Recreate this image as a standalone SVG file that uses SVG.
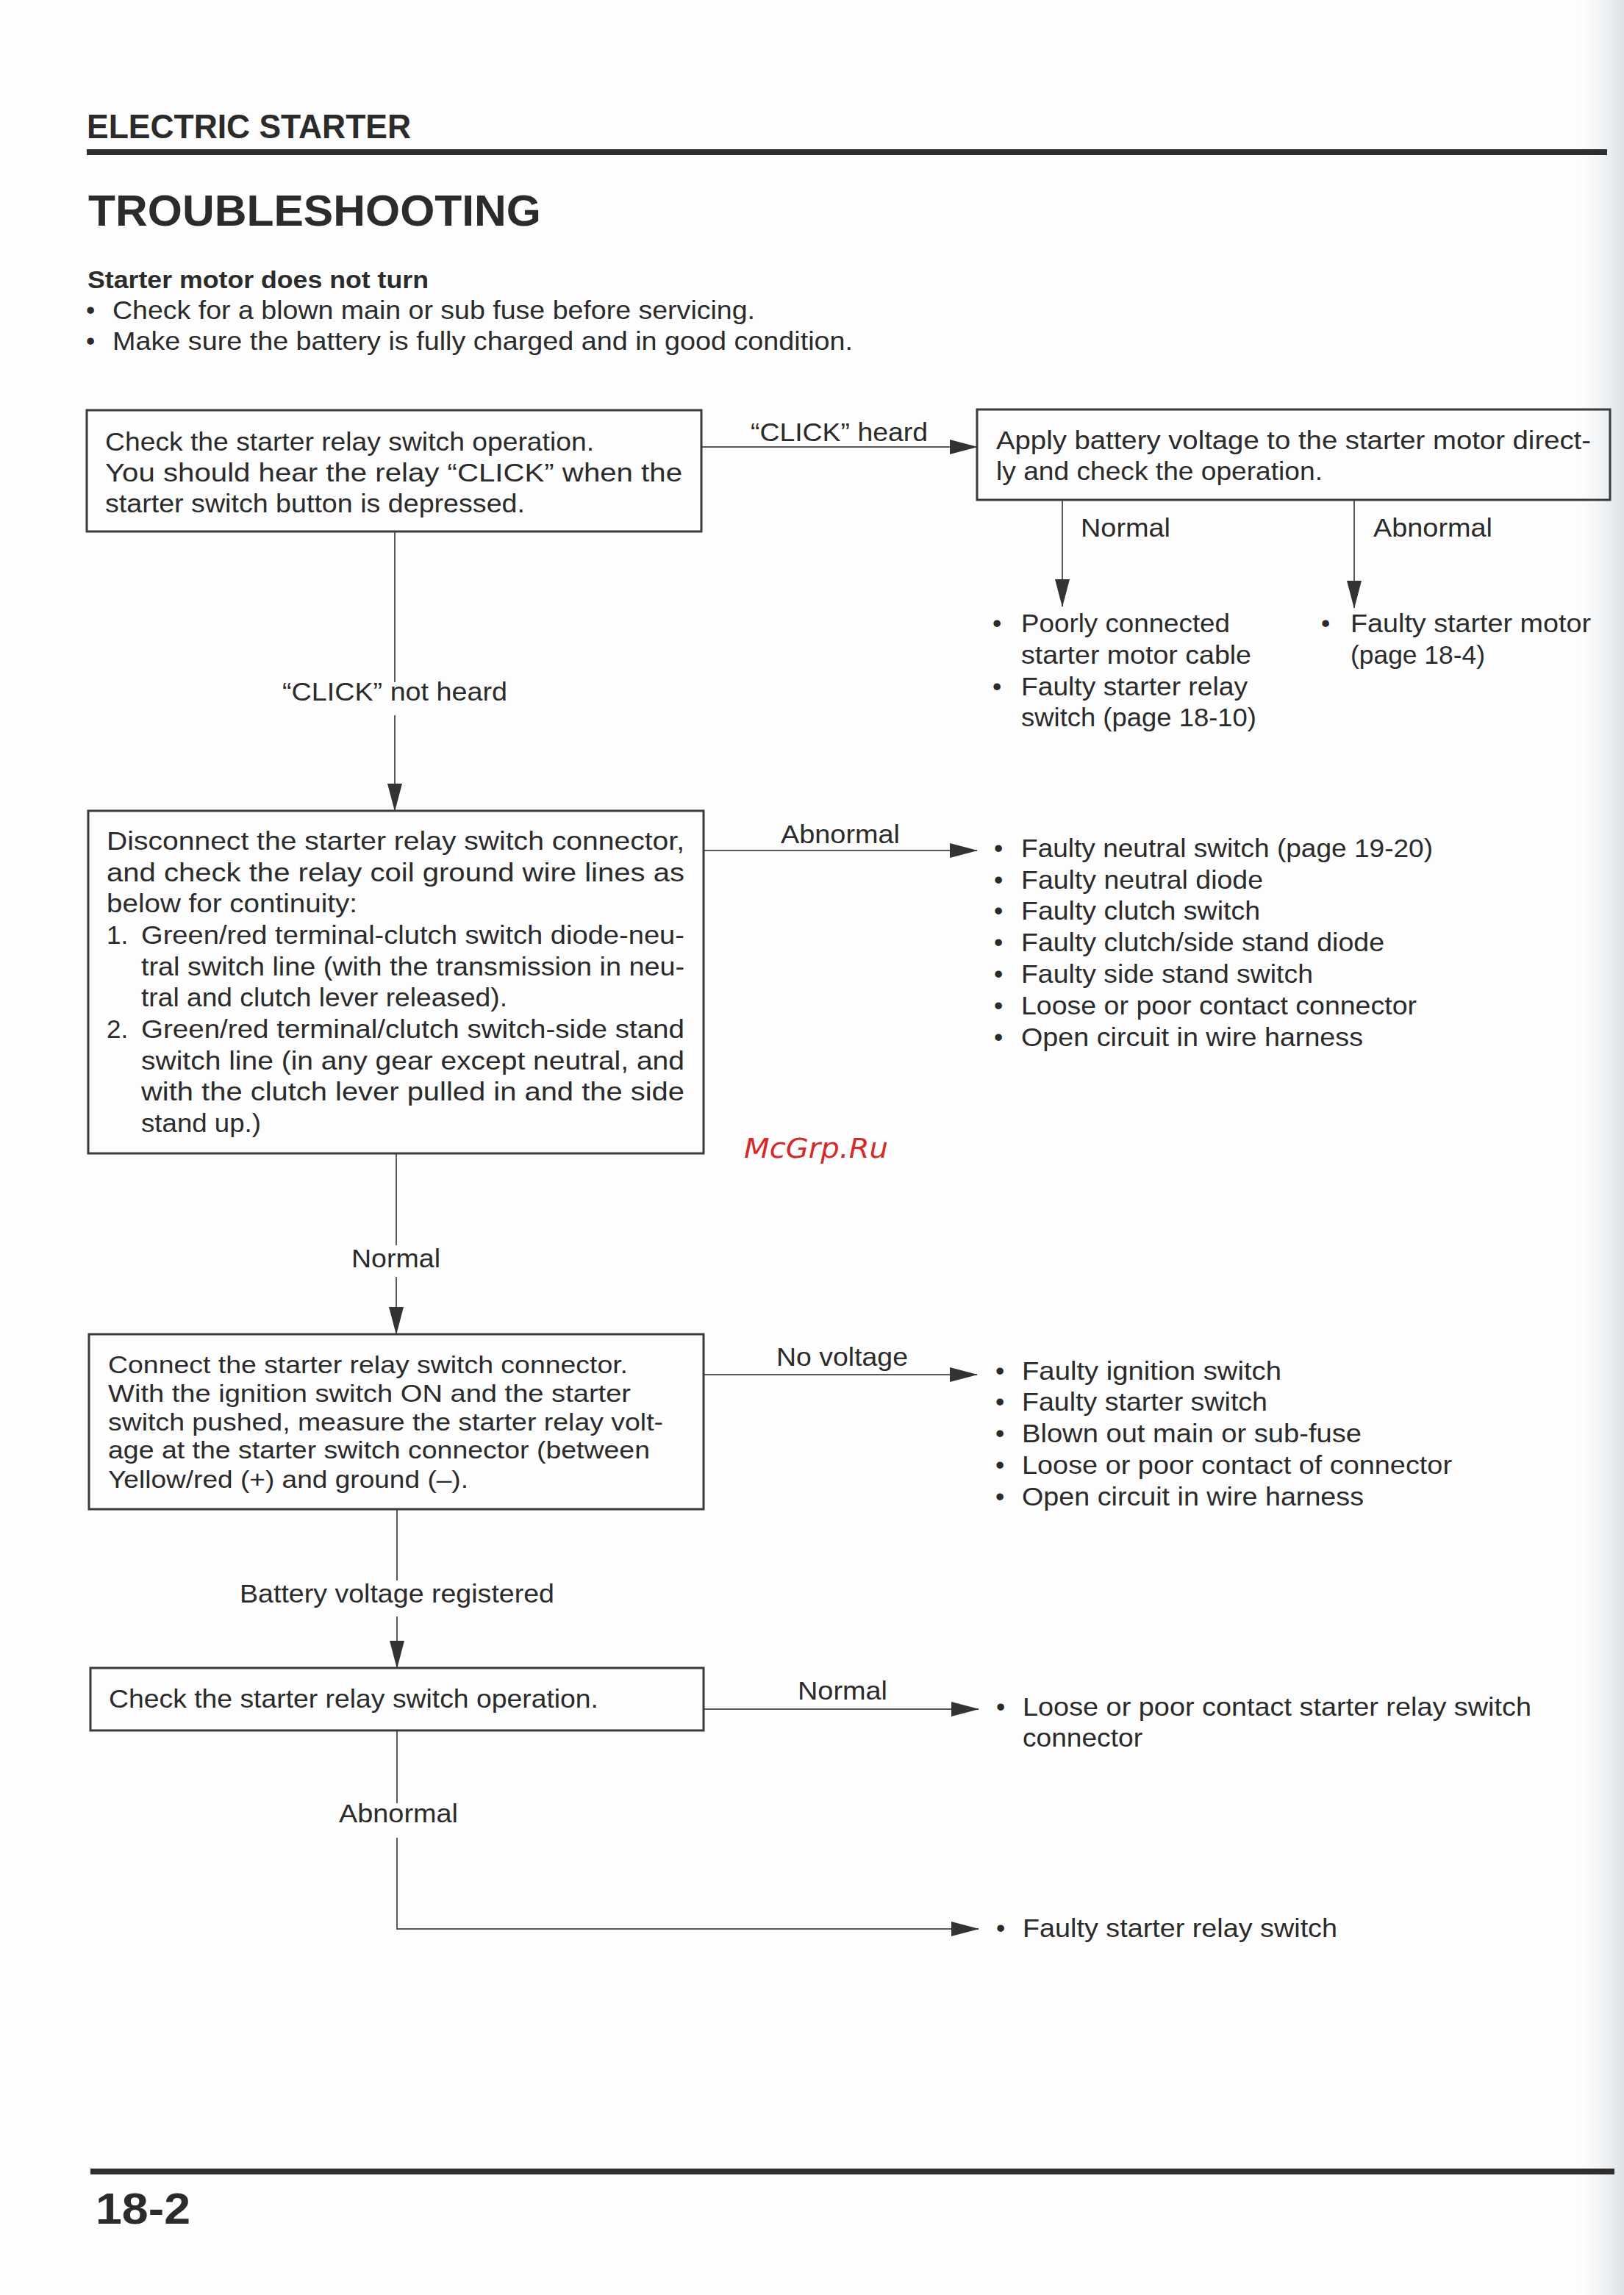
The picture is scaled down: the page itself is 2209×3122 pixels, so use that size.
<svg xmlns="http://www.w3.org/2000/svg" width="2209" height="3122" viewBox="0 0 2209 3122">
<defs>
<style>
text{font-family:"Liberation Sans",Arial,Helvetica,sans-serif;fill:#2b2b2b;}
.b{font-size:35px;}
.s{font-size:34px;}
.lbl{font-size:35px;}
.h{font-weight:bold;}
.box{fill:none;stroke:#3a3a3a;stroke-width:3;}
.con{fill:none;stroke:#5a5a5a;stroke-width:2;}
.wm{font-family:"DejaVu Sans",sans-serif;font-style:italic;font-size:38px;fill:#d42a2a;}
</style>
<marker id="arr" viewBox="0 0 38 20" refX="37" refY="10" markerWidth="38" markerHeight="20" markerUnits="userSpaceOnUse" orient="auto">
<path d="M0,0 L38,10 L0,20 z" fill="#333"/>
</marker>
<linearGradient id="edge" x1="0" y1="0" x2="1" y2="0">
<stop offset="0" stop-color="#e8ecf0" stop-opacity="0"/>
<stop offset="1" stop-color="#dde2e8" stop-opacity="1"/>
</linearGradient>
</defs>
<rect width="2209" height="3122" fill="#fdfdfd"/>
<rect x="2150" y="0" width="59" height="3122" fill="url(#edge)"/>

<g id="header">
<text class="h" x="118" y="188" font-size="46" textLength="441" lengthAdjust="spacingAndGlyphs">ELECTRIC STARTER</text>
<rect x="118" y="203" width="2068" height="8" fill="#2e2e2e"/>
<text class="h" x="120" y="307" font-size="60" textLength="616" lengthAdjust="spacingAndGlyphs">TROUBLESHOOTING</text>
<text class="h" x="119" y="392" font-size="34" textLength="464" lengthAdjust="spacingAndGlyphs">Starter motor does not turn</text>
<text class="b" x="117" y="434">•</text>
<text class="b" x="153" y="434" textLength="874" lengthAdjust="spacingAndGlyphs">Check for a blown main or sub fuse before servicing.</text>
<text class="b" x="117" y="476">•</text>
<text class="b" x="153" y="476" textLength="1007" lengthAdjust="spacingAndGlyphs">Make sure the battery is fully charged and in good condition.</text>
</g>

<g id="connectors">
<path class="con" d="M954,608 H1329" marker-end="url(#arr)"/>
<path class="con" d="M1445,680 V825" marker-end="url(#arr)"/>
<path class="con" d="M1842,680 V827" marker-end="url(#arr)"/>
<path class="con" d="M537,723 V928 M537,973 V1103" marker-end="url(#arr)"/>
<path class="con" d="M957,1157 H1329" marker-end="url(#arr)"/>
<path class="con" d="M539,1569 V1694 M539,1737 V1815" marker-end="url(#arr)"/>
<path class="con" d="M957,1870 H1329" marker-end="url(#arr)"/>
<path class="con" d="M540,2053 V2150 M540,2199 V2269" marker-end="url(#arr)"/>
<path class="con" d="M957,2325 H1331" marker-end="url(#arr)"/>
<path class="con" d="M540,2354 V2453 M540,2500 V2624 H1331" marker-end="url(#arr)"/>
</g>

<g id="labels">
<text class="lbl" x="1021" y="600" textLength="241" lengthAdjust="spacingAndGlyphs">“CLICK” heard</text>
<text class="lbl" x="1470" y="730" textLength="122" lengthAdjust="spacingAndGlyphs">Normal</text>
<text class="lbl" x="1868" y="730" textLength="162" lengthAdjust="spacingAndGlyphs">Abnormal</text>
<text class="lbl" x="384" y="953" textLength="306" lengthAdjust="spacingAndGlyphs">“CLICK” not heard</text>
<text class="lbl" x="1062" y="1147" textLength="162" lengthAdjust="spacingAndGlyphs">Abnormal</text>
<text class="lbl" x="478" y="1724" textLength="121" lengthAdjust="spacingAndGlyphs">Normal</text>
<text class="lbl" x="1056" y="1858" textLength="179" lengthAdjust="spacingAndGlyphs">No voltage</text>
<text class="lbl" x="326" y="2180" textLength="428" lengthAdjust="spacingAndGlyphs">Battery voltage registered</text>
<text class="lbl" x="1085" y="2312" textLength="122" lengthAdjust="spacingAndGlyphs">Normal</text>
<text class="lbl" x="461" y="2479" textLength="162" lengthAdjust="spacingAndGlyphs">Abnormal</text>
</g>

<g id="node-relay-check">
<rect class="box" x="118" y="558" width="836" height="165"/>
<text class="b" x="143" y="613" textLength="665" lengthAdjust="spacingAndGlyphs">Check the starter relay switch operation.</text>
<text class="b" x="143" y="655" textLength="785" lengthAdjust="spacingAndGlyphs">You should hear the relay “CLICK” when the</text>
<text class="b" x="143" y="697" textLength="571" lengthAdjust="spacingAndGlyphs">starter switch button is depressed.</text>
</g>

<g id="node-battery-direct">
<rect class="box" x="1329" y="557" width="861" height="123"/>
<text class="b" x="1355" y="611" textLength="809" lengthAdjust="spacingAndGlyphs">Apply battery voltage to the starter motor direct-</text>
<text class="b" x="1355" y="653" textLength="444" lengthAdjust="spacingAndGlyphs">ly and check the operation.</text>
</g>

<g id="result-normal-motor">
<text class="b" x="1350" y="860">•</text>
<text class="b" x="1389" y="860" textLength="284" lengthAdjust="spacingAndGlyphs">Poorly connected</text>
<text class="b" x="1389" y="903" textLength="313" lengthAdjust="spacingAndGlyphs">starter motor cable</text>
<text class="b" x="1350" y="946">•</text>
<text class="b" x="1389" y="946" textLength="308" lengthAdjust="spacingAndGlyphs">Faulty starter relay</text>
<text class="b" x="1389" y="988" textLength="320" lengthAdjust="spacingAndGlyphs">switch (page 18-10)</text>
</g>

<g id="result-abnormal-motor">
<text class="b" x="1797" y="860">•</text>
<text class="b" x="1837" y="860" textLength="327" lengthAdjust="spacingAndGlyphs">Faulty starter motor</text>
<text class="b" x="1837" y="903" textLength="183" lengthAdjust="spacingAndGlyphs">(page 18-4)</text>
</g>

<g id="node-continuity">
<rect class="box" x="120" y="1103" width="837" height="466"/>
<text class="b" x="145" y="1156" textLength="786" lengthAdjust="spacingAndGlyphs">Disconnect the starter relay switch connector,</text>
<text class="b" x="145" y="1199" textLength="786" lengthAdjust="spacingAndGlyphs">and check the relay coil ground wire lines as</text>
<text class="b" x="145" y="1241" textLength="341" lengthAdjust="spacingAndGlyphs">below for continuity:</text>
<text class="b" x="145" y="1284">1.</text>
<text class="b" x="192" y="1284" textLength="739" lengthAdjust="spacingAndGlyphs">Green/red terminal-clutch switch diode-neu-</text>
<text class="b" x="192" y="1327" textLength="739" lengthAdjust="spacingAndGlyphs">tral switch line (with the transmission in neu-</text>
<text class="b" x="192" y="1369" textLength="498" lengthAdjust="spacingAndGlyphs">tral and clutch lever released).</text>
<text class="b" x="145" y="1412">2.</text>
<text class="b" x="192" y="1412" textLength="739" lengthAdjust="spacingAndGlyphs">Green/red terminal/clutch switch-side stand</text>
<text class="b" x="192" y="1455" textLength="739" lengthAdjust="spacingAndGlyphs">switch line (in any gear except neutral, and</text>
<text class="b" x="192" y="1497" textLength="739" lengthAdjust="spacingAndGlyphs">with the clutch lever pulled in and the side</text>
<text class="b" x="192" y="1540" textLength="163" lengthAdjust="spacingAndGlyphs">stand up.)</text>
</g>

<g id="result-continuity-abnormal">
<text class="b" x="1352" y="1166">•</text>
<text class="b" x="1389" y="1166" textLength="560" lengthAdjust="spacingAndGlyphs">Faulty neutral switch (page 19-20)</text>
<text class="b" x="1352" y="1209">•</text>
<text class="b" x="1389" y="1209" textLength="329" lengthAdjust="spacingAndGlyphs">Faulty neutral diode</text>
<text class="b" x="1352" y="1251">•</text>
<text class="b" x="1389" y="1251" textLength="325" lengthAdjust="spacingAndGlyphs">Faulty clutch switch</text>
<text class="b" x="1352" y="1294">•</text>
<text class="b" x="1389" y="1294" textLength="494" lengthAdjust="spacingAndGlyphs">Faulty clutch/side stand diode</text>
<text class="b" x="1352" y="1337">•</text>
<text class="b" x="1389" y="1337" textLength="397" lengthAdjust="spacingAndGlyphs">Faulty side stand switch</text>
<text class="b" x="1352" y="1380">•</text>
<text class="b" x="1389" y="1380" textLength="538" lengthAdjust="spacingAndGlyphs">Loose or poor contact connector</text>
<text class="b" x="1352" y="1423">•</text>
<text class="b" x="1389" y="1423" textLength="465" lengthAdjust="spacingAndGlyphs">Open circuit in wire harness</text>
</g>

<text class="wm" x="1012" y="1575" textLength="196" lengthAdjust="spacingAndGlyphs">McGrp.Ru</text>

<g id="node-voltage">
<rect class="box" x="121" y="1815" width="836" height="238"/>
<text class="s" x="147" y="1868" textLength="707" lengthAdjust="spacingAndGlyphs">Connect the starter relay switch connector.</text>
<text class="s" x="147" y="1907" textLength="711" lengthAdjust="spacingAndGlyphs">With the ignition switch ON and the starter</text>
<text class="s" x="147" y="1946" textLength="755" lengthAdjust="spacingAndGlyphs">switch pushed, measure the starter relay volt-</text>
<text class="s" x="147" y="1984" textLength="737" lengthAdjust="spacingAndGlyphs">age at the starter switch connector (between</text>
<text class="s" x="147" y="2024" textLength="490" lengthAdjust="spacingAndGlyphs">Yellow/red (+) and ground (–).</text>
</g>

<g id="result-no-voltage">
<text class="b" x="1354" y="1877">•</text>
<text class="b" x="1390" y="1877" textLength="353" lengthAdjust="spacingAndGlyphs">Faulty ignition switch</text>
<text class="b" x="1354" y="1919">•</text>
<text class="b" x="1390" y="1919" textLength="334" lengthAdjust="spacingAndGlyphs">Faulty starter switch</text>
<text class="b" x="1354" y="1962">•</text>
<text class="b" x="1390" y="1962" textLength="462" lengthAdjust="spacingAndGlyphs">Blown out main or sub-fuse</text>
<text class="b" x="1354" y="2005">•</text>
<text class="b" x="1390" y="2005" textLength="585" lengthAdjust="spacingAndGlyphs">Loose or poor contact of connector</text>
<text class="b" x="1354" y="2048">•</text>
<text class="b" x="1390" y="2048" textLength="465" lengthAdjust="spacingAndGlyphs">Open circuit in wire harness</text>
</g>

<g id="node-relay-operation">
<rect class="box" x="123" y="2269" width="834" height="85"/>
<text class="b" x="148" y="2323" textLength="666" lengthAdjust="spacingAndGlyphs">Check the starter relay switch operation.</text>
</g>

<g id="result-relay-normal">
<text class="b" x="1355" y="2334">•</text>
<text class="b" x="1391" y="2334" textLength="692" lengthAdjust="spacingAndGlyphs">Loose or poor contact starter relay switch</text>
<text class="b" x="1391" y="2376" textLength="163" lengthAdjust="spacingAndGlyphs">connector</text>
</g>

<g id="result-relay-abnormal">
<text class="b" x="1355" y="2635">•</text>
<text class="b" x="1391" y="2635" textLength="428" lengthAdjust="spacingAndGlyphs">Faulty starter relay switch</text>
</g>

<g id="footer">
<rect x="123" y="2950" width="2073" height="8" fill="#2e2e2e"/>
<text class="h" x="130" y="3025" font-size="60" textLength="129" lengthAdjust="spacingAndGlyphs">18-2</text>
</g>
</svg>
